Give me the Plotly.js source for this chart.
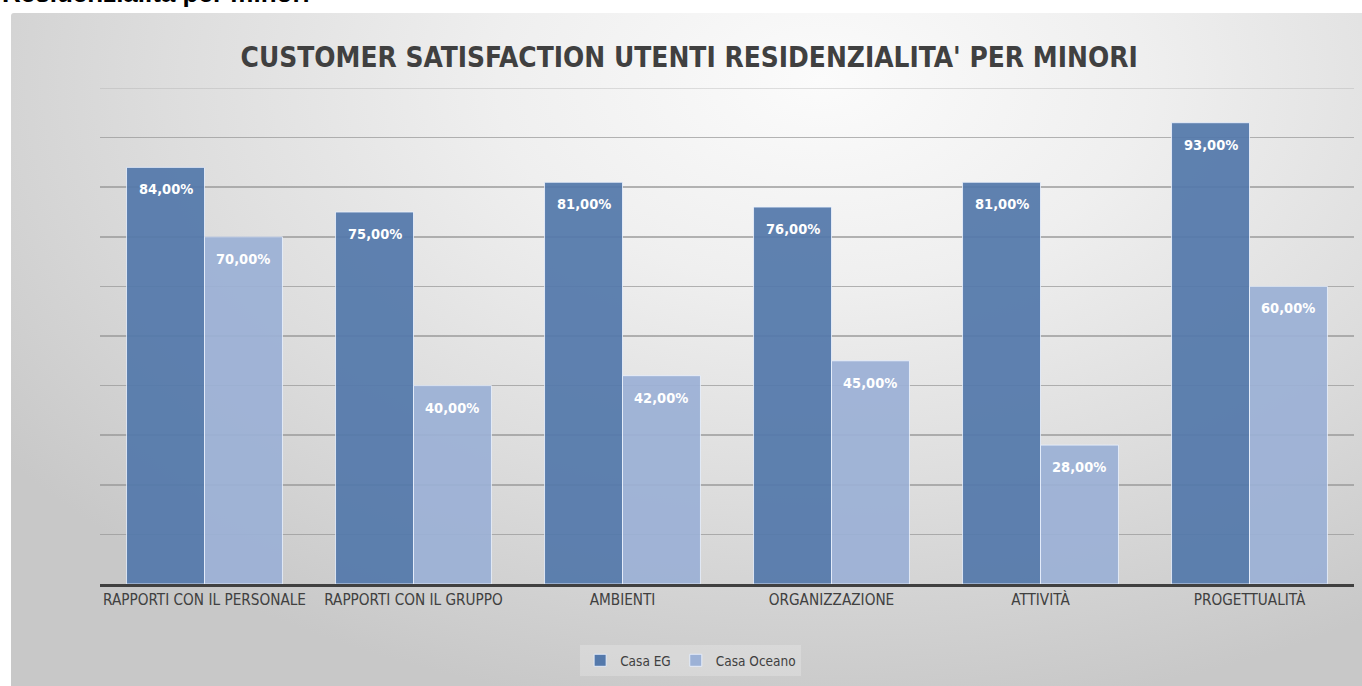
<!DOCTYPE html>
<html>
<head>
<meta charset="utf-8">
<script src="https://cdn.plot.ly/plotly-3.0.1.min.js"></script>
<style>
  html, body { margin:0; padding:0; background:#ffffff; }
  #wrap { position:relative; width:1362px; height:686px; overflow:hidden; }
  #bg { position:absolute; left:11px; top:13px; width:1351px; height:673px;
        border-top-left-radius:3px;
        background: radial-gradient(ellipse 75% 95% at 60% 10%, #fbfbfb 0%, #efefef 32%, #dddddd 65%, #c8c8c8 100%); }
  #chart { position:absolute; left:0; top:0; width:1362px; height:686px; }
</style>
</head>
<body>
<div id="wrap">
  <div id="bg"></div>
  <div id="chart"></div>
</div>
<script>
const categories = ["RAPPORTI CON IL PERSONALE", "RAPPORTI CON IL GRUPPO", "AMBIENTI", "ORGANIZZAZIONE", "ATTIVITÀ", "PROGETTUALITÀ"];
const casaEG = [84, 75, 81, 76, 81, 93];
const casaOceano = [70, 40, 42, 45, 28, 60];
const seriesNames = ["Casa EG", "Casa Oceano"];
const chartTitle = "CUSTOMER SATISFACTION UTENTI RESIDENZIALITA' PER MINORI";
const headingText = "Residenzialità per minori";
const yMax = 100;

const NARROW = "Liberation Sans Narrow, Arial Narrow, DejaVu Sans Condensed, sans-serif";
const fmt = v => v.toFixed(2).replace('.', ',') + '%';
const bargap = 0.254;
const half = (1 - bargap) / 4;

const mkBar = (name, vals, color) => ({
  type: 'bar', name: name, x: categories, y: vals,
  marker: { color: color, opacity: 0.93, line: { color: 'rgba(235,242,255,0.85)', width: 1 } },
  hoverinfo: 'skip'
});

const traces = [
  mkBar(seriesNames[0], casaEG, '#5479ab'),
  mkBar(seriesNames[1], casaOceano, '#9cb1d6')
];

const annotations = [];
[casaEG, casaOceano].forEach((vals, s) => {
  vals.forEach((v, i) => {
    annotations.push({
      x: i + (s === 0 ? -half : half), y: v, xref: 'x', yref: 'y',
      text: fmt(v), showarrow: false, yanchor: 'top', yshift: -12,
      font: { family: NARROW, size: 14.5, color: '#ffffff', weight: 'bold' }
    });
  });
});
annotations.push({
  text: '<b>' + headingText + '</b>', xref: 'paper', yref: 'paper',
  x: -0.0797, y: 1, xanchor: 'left', yanchor: 'bottom', yshift: 78, showarrow: false,
  font: { family: 'Liberation Sans, Arial, sans-serif', size: 26, color: '#000000' }
});

const layout = {
  width: 1362, height: 686,
  margin: { l: 100, r: 8, t: 88, b: 102 },
  paper_bgcolor: 'rgba(0,0,0,0)', plot_bgcolor: 'rgba(0,0,0,0)',
  title: {
    text: '<b>' + chartTitle + '</b>', x: 0.506, xanchor: 'center', xref: 'container',
    y: 0.917, yanchor: 'middle',
    font: { family: NARROW, size: 27.8, color: '#404040' }
  },
  barmode: 'group', bargap: bargap, bargroupgap: 0,
  xaxis: {
    type: 'category', showline: true, linecolor: '#404040', linewidth: 3,
    ticks: '', showgrid: false, zeroline: false,
    tickfont: { family: NARROW, size: 15.2, color: '#404040' }
  },
  yaxis: {
    range: [0, yMax], dtick: 10, showticklabels: false, ticks: '',
    showgrid: true, gridcolor: 'rgba(150,150,150,0.7)', gridwidth: 1.5,
    zeroline: false, showline: false
  },
  shapes: [{
    type: 'line', xref: 'paper', yref: 'y', x0: 0, x1: 1, y0: yMax, y1: yMax,
    line: { color: 'rgba(170,170,170,0.35)', width: 2 }, layer: 'below'
  }],
  showlegend: true,
  legend: {
    orientation: 'h', x: 0.471, xanchor: 'center', y: -0.123, yanchor: 'top',
    bgcolor: 'rgba(255,255,255,0.22)',
    font: { family: NARROW, size: 13.5, color: '#404040' },
    itemwidth: 30, traceorder: 'normal'
  },
  annotations: annotations
};

Plotly.newPlot('chart', traces, layout, { displayModeBar: false, staticPlot: true });
</script>
</body>
</html>
